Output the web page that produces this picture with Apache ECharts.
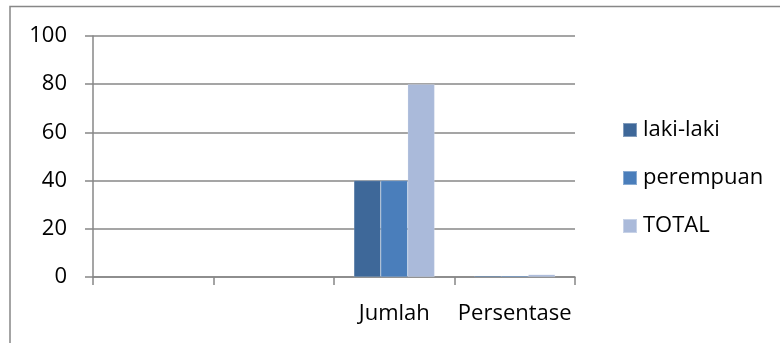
<!DOCTYPE html>
<html>
<head>
<meta charset="utf-8">
<script src="https://cdn.jsdelivr.net/npm/echarts@6/dist/echarts.min.js"></script>
<style>
  html, body { margin: 0; padding: 0; background: #fff; }
  #chart { width: 780px; height: 343px; }
</style>
</head>
<body>
<div id="chart"></div>
<script>
// Categories along the x axis (the first two are left blank)
const categories = ['', '', 'Jumlah', 'Persentase'];

// Series values per category
const lakiLaki = [null, null, 40, 0.5];
const perempuan = [null, null, 40, 0.5];
const total = [null, null, 80, 1];

// Value axis ticks
const yTicks = [0, 20, 40, 60, 80, 100];

const seriesNames = ['laki-laki', 'perempuan', 'TOTAL'];
const seriesColors = ['#3E6899', '#4A7EBB', '#AABADA'];
const seriesData = [lakiLaki, perempuan, total];

const FONT = '"Open Sans", sans-serif';
const FONT_SIZE = 22;
const AXIS_GRAY = '#878787';

const chart = echarts.init(document.getElementById('chart'), null, { renderer: 'canvas' });

chart.setOption({
  animation: false,
  backgroundColor: '#ffffff',
  textStyle: { fontFamily: FONT, color: '#000' },
  graphic: [{
    type: 'rect',
    shape: { x: 10, y: 6.5, width: 800, height: 400 },
    style: { fill: 'none', stroke: AXIS_GRAY, lineWidth: 1.5 },
    silent: true
  }],
  grid: { left: 93, right: 205, top: 36, bottom: 66 },
  legend: {
    orient: 'vertical',
    left: 617,
    top: 114,
    itemWidth: 14,
    itemHeight: 14,
    itemGap: 26,
    icon: 'rect',
    textStyle: { fontFamily: FONT, fontSize: FONT_SIZE, color: '#000', padding: [0, 0, 0, 1] },
    data: seriesNames
  },
  xAxis: {
    type: 'category',
    data: categories,
    boundaryGap: true,
    axisLine: { show: true, lineStyle: { color: AXIS_GRAY, width: 1.5 } },
    axisTick: { show: true, alignWithLabel: false, length: 8, lineStyle: { color: AXIS_GRAY, width: 1.5 } },
    axisLabel: { fontFamily: FONT, fontSize: FONT_SIZE, color: '#000', margin: 26, interval: 0 },
    splitLine: { show: false }
  },
  yAxis: {
    type: 'value',
    min: yTicks[0],
    max: yTicks[yTicks.length - 1],
    interval: yTicks[1] - yTicks[0],
    axisLine: { show: true, lineStyle: { color: AXIS_GRAY, width: 1.5 } },
    axisTick: { show: true, length: 8, lineStyle: { color: AXIS_GRAY, width: 1.5 } },
    axisLabel: { fontFamily: FONT, fontSize: FONT_SIZE, color: '#000', margin: 26 },
    splitLine: { show: true, lineStyle: { color: AXIS_GRAY, width: 1.5 } }
  },
  series: seriesNames.map((name, i) => ({
    name: name,
    type: 'bar',
    data: seriesData[i],
    barGap: '0%',
    barCategoryGap: '33%',
    itemStyle: { color: seriesColors[i], borderColor: 'rgba(255,255,255,0.35)', borderWidth: 0.5 }
  }))
});
</script>
</body>
</html>
